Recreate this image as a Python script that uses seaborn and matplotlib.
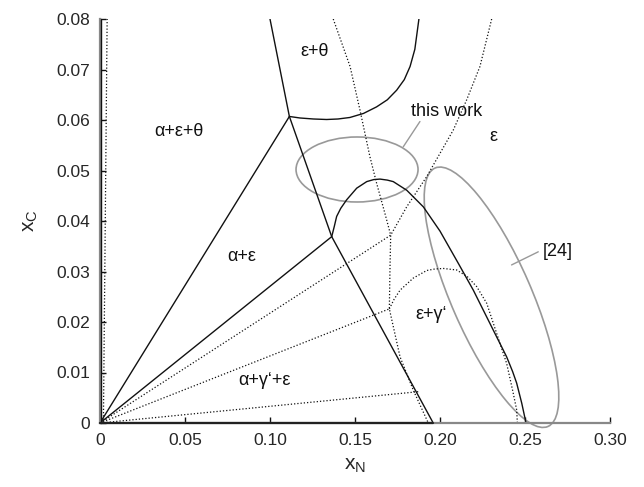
import matplotlib
matplotlib.use("Agg")
import numpy as np
import pandas as pd
import seaborn as sns
import matplotlib.pyplot as plt
from matplotlib.patches import Ellipse
from matplotlib.transforms import ScaledTranslation

# ---------------- phase boundaries, coordinates are (x_N, x_C) ----------------
# this work (solid)
eps_left_x = [0.100, 0.1114, 0.1363, 0.196]
eps_left_y = [0.080, 0.0607, 0.0369, 0.0]

eps_theta_x = [0.1114, 0.1176, 0.1255, 0.1333, 0.1400, 0.147, 0.1550, 0.1627, 0.1690, 0.1745, 0.1790, 0.1824, 0.1852, 0.1876]
eps_theta_y = [0.0607, 0.0604, 0.0602, 0.0601, 0.0602, 0.0605, 0.0613, 0.0626, 0.0640, 0.0659, 0.0680, 0.0706, 0.0740, 0.080]

eps_gamma_x = [0.1363, 0.1378, 0.1392, 0.1416, 0.1451, 0.1510, 0.1569, 0.1610, 0.1647, 0.1690, 0.1725,
               0.1804, 0.1902, 0.2000, 0.2108, 0.2196, 0.2245, 0.2294, 0.2343, 0.2392, 0.2427,
               0.2451, 0.2481, 0.2506]
eps_gamma_y = [0.0369, 0.0389, 0.0409, 0.0425, 0.0442, 0.0465, 0.0478, 0.0482, 0.0483, 0.0481, 0.0478,
               0.0461, 0.0428, 0.0380, 0.0316, 0.0263, 0.0230, 0.0197, 0.0164, 0.0131, 0.0102,
               0.0079, 0.0039, 0.0]

alpha_x = [0.0005, 0.0005]
alpha_y = [0.0, 0.080]

# tie-triangle corners (solid)
tie_solid_x = [0.1114, 0.1363]
tie_solid_y = [0.0607, 0.0369]

# earlier calculation (dotted)
ref_theta_x = [0.1372, 0.1471, 0.1529, 0.1588, 0.1627, 0.1676, 0.1710, 0.1706, 0.1702, 0.1765, 0.1843, 0.1931]
ref_theta_y = [0.080, 0.0706, 0.0620, 0.0527, 0.0475, 0.0415, 0.0372, 0.0310, 0.0226, 0.0131, 0.0065, 0.0]

ref_eps_x = [0.2304, 0.2235, 0.2157, 0.2078, 0.2000, 0.1922, 0.1804, 0.1710]
ref_eps_y = [0.080, 0.0706, 0.0640, 0.0580, 0.0534, 0.0488, 0.0428, 0.0372]

ref_gamma_x = [0.1702, 0.1730, 0.1765, 0.1843, 0.1922, 0.1970, 0.2020, 0.2098, 0.2160, 0.2216, 0.2275,
               0.2314, 0.2392, 0.2427, 0.2451, 0.2455]
ref_gamma_y = [0.0226, 0.0245, 0.0263, 0.0287, 0.0302, 0.0305, 0.0306, 0.0303, 0.0290, 0.0270, 0.0237,
               0.0197, 0.0118, 0.0065, 0.0026, 0.0]

ref_alpha_x = [0.0020, 0.0042]
ref_alpha_y = [0.0, 0.080]

tie_dotted_x = [0.1710, 0.1702, 0.1873]
tie_dotted_y = [0.0372, 0.0226, 0.0062]

# axis ticks
xticks = [0, 0.05, 0.10, 0.15, 0.20, 0.25, 0.30]
xtick_labels = ["0", "0.05", "0.10", "0.15", "0.20", "0.25", "0.30"]
yticks = [0, 0.01, 0.02, 0.03, 0.04, 0.05, 0.06, 0.07, 0.08]
ytick_labels = ["0", "0.01", "0.02", "0.03", "0.04", "0.05", "0.06", "0.07", "0.08"]

# region labels
region_labels = ["ε+θ", "α+ε+θ", "α+ε", "α+γ‘+ε", "ε+γ‘", "ε"]
region_x = [0.1265, 0.0465, 0.0833, 0.0965, 0.1950, 0.2315]
region_y = [0.0735, 0.0577, 0.0329, 0.0085, 0.0214, 0.0567]

# ------------------------------------------------------------------------------
sns.set_style("ticks")
plt.rcParams["font.family"] = ["Liberation Sans", "DejaVu Sans"]
plt.rcParams["mathtext.fontset"] = "custom"
plt.rcParams["mathtext.rm"] = "Liberation Sans"

fig = plt.figure(figsize=(6.44, 4.87), dpi=100)
ax = fig.add_axes([100 / 644, 1 - 423 / 487, 510 / 644, 404 / 487])
ax.set_xlim(0, 0.30)
ax.set_ylim(0, 0.08)

BLACK = "#111111"
GRAY = "#999999"
DOT = (0, (1, 1.6))


def curve(xs, ys, dotted=False, lw=1.0):
    df = pd.DataFrame({"x_N": xs, "x_C": ys})
    sns.lineplot(data=df, x="x_N", y="x_C", ax=ax, sort=False, estimator=None,
                 color=BLACK, lw=0.9 if dotted else lw,
                 linestyle=DOT if dotted else "-")


# tie lines from the Fe corner
for tx, ty in zip(tie_solid_x, tie_solid_y):
    curve([0, tx], [0, ty])
for tx, ty in zip(tie_dotted_x, tie_dotted_y):
    curve([0, tx], [0, ty], dotted=True)

curve(eps_left_x, eps_left_y)
curve(eps_theta_x, eps_theta_y)
curve(eps_gamma_x, eps_gamma_y)
curve(ref_theta_x, ref_theta_y, dotted=True)
curve(ref_eps_x, ref_eps_y, dotted=True)
curve(ref_gamma_x, ref_gamma_y, dotted=True)
curve(ref_alpha_x, ref_alpha_y, dotted=True)

# alpha phase boundary hugging the axis
ax.plot(alpha_x, alpha_y, color=BLACK, lw=1.0, clip_on=False, zorder=4)
# boundary along x_C = 0 up to the eps phase
ax.plot([0, eps_left_x[-1]], [0, 0], color="#222222", lw=1.6, clip_on=False, zorder=5)

# literature / this-work ellipses, sized in inches so they keep their shape
for (cx, cy), w, h, ang in [((0.1512, 0.0502), 1.22, 0.65, 0.0),
                            ((0.2303, 0.0249), 2.82, 0.80, -66.4)]:
    tr = fig.dpi_scale_trans + ScaledTranslation(cx, cy, ax.transData)
    ax.add_patch(Ellipse((0, 0), w, h, angle=ang, transform=tr, fill=False,
                         edgecolor=GRAY, lw=1.2, clip_on=False))

# annotations with leader lines
ax.plot([0.1784, 0.1882], [0.0547, 0.0597], color=GRAY, lw=1.0)
ax.text(0.2040, 0.0616, "this work", fontsize=13, ha="center", va="center", color=BLACK)
ax.plot([0.2421, 0.2578], [0.0313, 0.0339], color=GRAY, lw=1.0)
ax.text(0.2694, 0.0339, "[24]", fontsize=13, ha="center", va="center", color=BLACK)

for lab, lx, ly in zip(region_labels, region_x, region_y):
    ax.text(lx, ly, lab, fontsize=13, ha="center", va="center", color=BLACK)

# axes styling
sns.despine(ax=ax)
for side in ("left", "bottom"):
    ax.spines[side].set_color("#888888")
    ax.spines[side].set_linewidth(1.6)
ax.set_xticks(xticks)
ax.set_xticklabels(xtick_labels)
ax.set_yticks(yticks)
ax.set_yticklabels(ytick_labels)
ax.tick_params(direction="in", length=4, width=1, color=BLACK, labelsize=12.5, pad=7)
ax.set_xlabel(r"$\mathregular{x_N}$", fontsize=15, labelpad=6)
ax.set_ylabel(r"$\mathregular{x_C}$", fontsize=15, labelpad=12)

fig.savefig("out.png", dpi=100)
